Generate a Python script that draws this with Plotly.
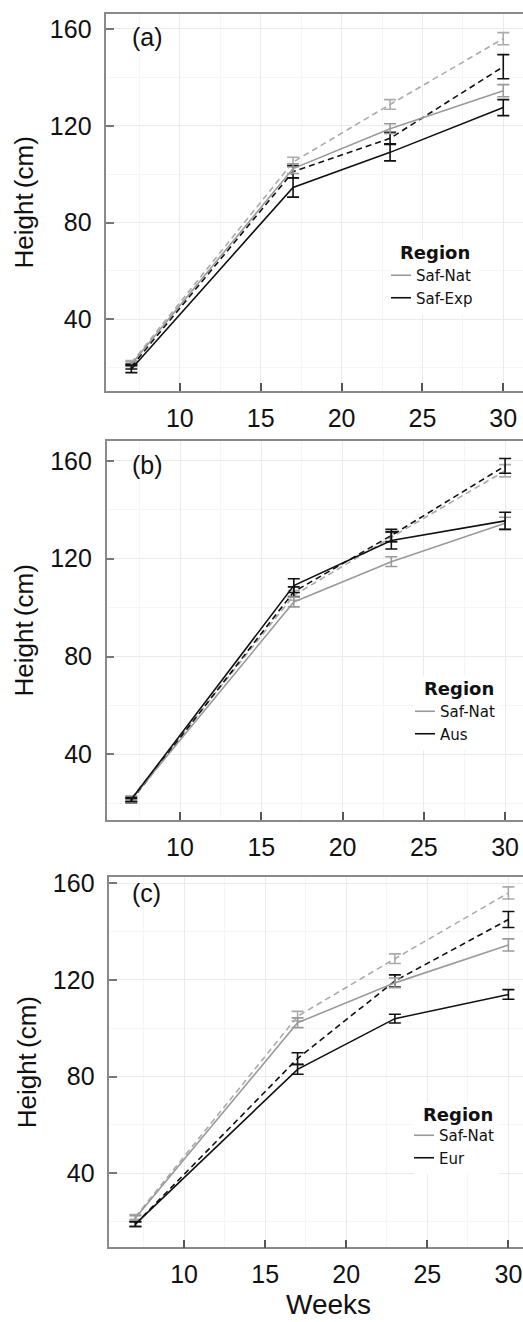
import plotly.graph_objects as go

# ---------------- data ----------------
weeks = [7, 17, 23, 30]

# Saf-Nat (reference region, shown in every panel)
saf_nat_solid = [21.5, 102.3, 118.8, 134.5]
saf_nat_solid_se = [1.0, 2.0, 2.0, 2.5]
saf_nat_dashed = [22.0, 105.0, 128.8, 156.0]
saf_nat_dashed_se = [1.0, 2.0, 2.0, 2.5]

# (a) Saf-Exp
saf_exp_solid = [19.5, 94.5, 109.0, 127.5]
saf_exp_solid_se = [1.5, 4.0, 3.5, 3.3]
saf_exp_dashed = [20.5, 101.0, 114.8, 144.4]
saf_exp_dashed_se = [1.0, 2.6, 2.5, 5.0]

# (b) Aus
aus_solid = [21.5, 109.0, 127.5, 135.5]
aus_solid_se = [0.8, 2.8, 3.5, 3.5]
aus_dashed = [21.0, 106.5, 129.5, 158.0]
aus_dashed_se = [0.8, 2.0, 2.5, 3.0]

# (c) Eur
eur_solid = [19.0, 83.0, 104.0, 114.0]
eur_solid_se = [1.0, 2.0, 1.8, 2.0]
eur_dashed = [19.0, 87.5, 119.6, 145.0]
eur_dashed_se = [1.0, 2.4, 2.5, 3.3]

panel_labels = ["(a)", "(b)", "(c)"]
region_names = ["Saf-Exp", "Aus", "Eur"]
y_ticks = [40, 80, 120, 160]
x_ticks = [10, 15, 20, 25, 30]

# ---------------- layout geometry (px) ----------------
W, H = 523, 1322
panels_px = [  # x0, y_top, y_bottom
    (106.3, 13.7, 391.0),
    (106.7, 440.7, 820.0),
    (109.3, 877.0, 1247.3),
]
x_ranges = [[5.45, 31.22], [5.49, 31.1], [5.39, 30.9]]
y_ranges = [[10.4, 166.3], [13.1, 168.3], [9.4, 162.6]]
legend_px = [(391, 259), (415, 695), (414, 1119)]  # left, top of entries
legend_title_px = [(398, 252.7), (421.7, 688.3), (420.7, 1114.3)]
label_px = [(130, 36.7), (130, 465), (130, 893)]

GRAY_S = "#9a9a9a"
GRAY_D = "#ababab"
BLACK = "#111111"
DASH = "6px,4px"

region_data = [
    (saf_exp_solid, saf_exp_solid_se, saf_exp_dashed, saf_exp_dashed_se),
    (aus_solid, aus_solid_se, aus_dashed, aus_dashed_se),
    (eur_solid, eur_solid_se, eur_dashed, eur_dashed_se),
]

fig = go.Figure()


def add_series(i, y, se, color, dash, name, showlegend):
    sfx = "" if i == 0 else str(i + 1)
    fig.add_trace(go.Scatter(
        x=weeks, y=y, mode="lines", name=name,
        line=dict(color=color, width=1.6, dash=dash),
        error_y=dict(type="data", array=se, visible=True, color=color,
                     thickness=1.6, width=6),
        xaxis="x" + sfx, yaxis="y" + sfx,
        legend="legend" + sfx, showlegend=showlegend,
    ))


for i in range(3):
    rs, rse, rd, rdse = region_data[i]
    add_series(i, saf_nat_dashed, saf_nat_dashed_se, GRAY_D, DASH, "Saf-Nat", False)
    add_series(i, rd, rdse, BLACK, DASH, region_names[i], False)
    add_series(i, saf_nat_solid, saf_nat_solid_se, GRAY_S, "solid", "Saf-Nat", True)
    add_series(i, rs, rse, BLACK, "solid", region_names[i], True)

layout = dict(
    width=W, height=H, template="none",
    margin=dict(l=0, r=0, t=0, b=0),
    paper_bgcolor="white", plot_bgcolor="white",
    font=dict(family="Liberation Sans, Arial, sans-serif", color="#111111"),
    annotations=[],
)

for i in range(3):
    sfx = "" if i == 0 else str(i + 1)
    x0, yt, yb = panels_px[i]
    xa = dict(
        domain=[x0 / W, 1.0], range=x_ranges[i], anchor="y" + sfx,
        tickvals=x_ticks, ticks="inside", ticklen=8, tickwidth=1.5,
        tickcolor="#555555", tickfont=dict(size=25, color="#111111"),
        ticklabelstandoff=4,
        showline=True, linecolor="#8a8a8a", linewidth=1.5, mirror=True,
        showgrid=True, gridcolor="#ebebeb", gridwidth=1,
        minor=dict(dtick=2.5, tick0=0, showgrid=True, gridcolor="#f5f5f5",
                   gridwidth=1, ticks=""),
        zeroline=False, automargin=False,
    )
    ya = dict(
        domain=[1 - yb / H, 1 - yt / H], range=y_ranges[i], anchor="x" + sfx,
        tickvals=y_ticks, ticks="inside", ticklen=8, tickwidth=1.5,
        tickcolor="#777777", tickfont=dict(size=25, color="#111111"),
        ticklabelstandoff=8,
        showline=True, linecolor="#8a8a8a", linewidth=1.5, mirror=False,
        showgrid=True, gridcolor="#ebebeb", gridwidth=1,
        minor=dict(dtick=20, tick0=0, showgrid=True, gridcolor="#f5f5f5",
                   gridwidth=1, ticks=""),
        zeroline=False, automargin=False,
        title=dict(text="Height\u2009(cm)", font=dict(size=26, color="#111111"),
                   standoff=9),
    )
    layout["xaxis" + sfx] = xa
    layout["yaxis" + sfx] = ya

    lx, ly = legend_px[i]
    layout["legend" + sfx] = dict(
        x=lx / W, y=1 - ly / H, xref="paper", yref="paper",
        xanchor="left", yanchor="top",
        bgcolor="white", borderwidth=0, indentation=-15,
        font=dict(family="DejaVu Sans, sans-serif", size=15, color="#111111"),
        traceorder="normal", itemwidth=30,
    )
    tx, ty = legend_title_px[i]
    layout["annotations"].append(dict(
        text="<b>Region</b>", x=tx / W, y=1 - ty / H, xref="paper", yref="paper",
        xanchor="left", yanchor="middle", showarrow=False, bgcolor="white",
        font=dict(family="DejaVu Sans, sans-serif", size=18, color="#111111"),
    ))
    px_, py_ = label_px[i]
    layout["annotations"].append(dict(
        text=panel_labels[i], x=px_ / W, y=1 - py_ / H, xref="paper", yref="paper",
        xanchor="left", yanchor="middle", showarrow=False,
        font=dict(size=25, color="#111111"),
    ))

layout["annotations"].append(dict(
    text="Weeks", x=328.3 / W, y=1 - 1304 / H, xref="paper", yref="paper",
    xanchor="center", yanchor="middle", showarrow=False,
    font=dict(size=28, color="#111111"),
))

fig.update_layout(**layout)
fig.write_html(
    "out.html",
    config={"displayModeBar": False},
    post_script="document.body.style.margin='0';document.body.style.padding='0';"
                "document.body.style.overflow='hidden';",
)
